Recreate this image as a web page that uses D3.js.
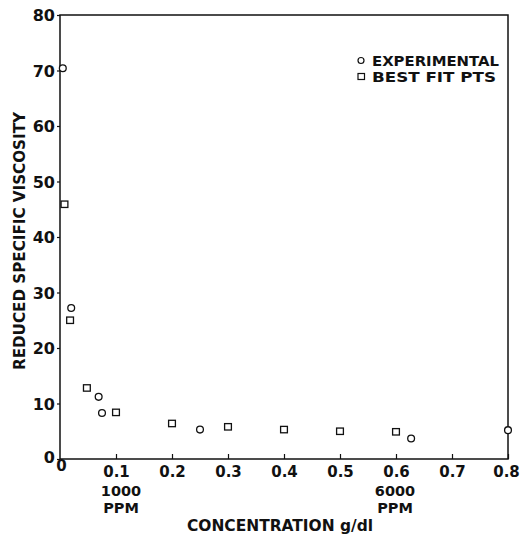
<!DOCTYPE html>
<html><head><meta charset="utf-8">
<script src="https://cdn.jsdelivr.net/npm/d3@7"></script>
<style>body{margin:0;background:#fff}svg{display:block}text{font-family:"DejaVu Sans","Liberation Sans",Arial,sans-serif;font-weight:bold;fill:#111}</style>
</head><body>
<script>
const expX = [0.005, 0.02, 0.069, 0.075, 0.25, 0.627, 0.8];
const expY = [70.4, 27.2, 11.2, 8.3, 5.3, 3.7, 5.2];
const fitX = [0.008, 0.018, 0.048, 0.1, 0.2, 0.3, 0.4, 0.5, 0.6];
const fitY = [45.9, 25.0, 12.8, 8.4, 6.4, 5.8, 5.3, 5.0, 4.9];
const xTicks = [0, 0.1, 0.2, 0.3, 0.4, 0.5, 0.6, 0.7, 0.8];
const xTickLabels = ["0", "0.1", "0.2", "0.3", "0.4", "0.5", "0.6", "0.7", "0.8"];
const yTicks = [0, 10, 20, 30, 40, 50, 60, 70, 80];
const ppmNotes = [{x: 0.1, a: "1000", b: "PPM"}, {x: 0.6, a: "6000", b: "PPM"}];
const legendItems = ["EXPERIMENTAL", "BEST FIT PTS"];

const W = 520, H = 541;
const L = 60, R = 508, T = 15, B = 459;
const svg = d3.select("body").append("svg").attr("width", W).attr("height", H);
const x = d3.scaleLinear().domain([0, 0.8]).range([L, R]);
const y = d3.scaleLinear().domain([0, 80]).range([B, T]);

// frame
svg.append("rect").attr("x", L).attr("y", T).attr("width", R - L).attr("height", B - T)
  .attr("fill", "none").attr("stroke", "#111").attr("stroke-width", 1.5);

// y axis
const ya = svg.append("g").attr("transform", `translate(${L},0)`)
  .call(d3.axisLeft(y).tickValues(yTicks).tickSize(3).tickPadding(2).tickFormat(d3.format("d")));
ya.select(".domain").remove();
ya.selectAll("line").attr("stroke", "#111").attr("stroke-width", 1.2);
ya.selectAll("text").style("font-size", "16px").attr("dy", "0.36em");
ya.selectAll(".tick").filter(d => d === 0).select("text").attr("x", -5).attr("dy", "0.2em");

// x axis
const xa = svg.append("g").attr("transform", `translate(0,${B})`)
  .call(d3.axisBottom(x).tickValues(xTicks).tickSizeInner(-5).tickSizeOuter(0).tickPadding(7)
    .tickFormat((d, i) => xTickLabels[i]));
xa.select(".domain").remove();
xa.selectAll("line").attr("stroke", "#111").attr("stroke-width", 1.2);
xa.selectAll("text").style("font-size", "15px");
xa.selectAll(".tick").filter(d => d === 0).select("line").remove();
xa.selectAll(".tick").filter(d => d === 0).select("text").attr("dx", 1).attr("y", 0).attr("dy", "0.78em");
xa.selectAll(".tick").filter(d => d === 0.8).select("text").attr("dx", -2);

// ppm notes
const ppmDx = [5, -1];
ppmNotes.forEach((n, i) => {
  svg.append("text").attr("x", x(n.x) + ppmDx[i]).attr("y", 496).attr("text-anchor", "middle").style("font-size", "14.5px").text(n.a);
  svg.append("text").attr("x", x(n.x) + ppmDx[i]).attr("y", 513).attr("text-anchor", "middle").style("font-size", "14.5px").text(n.b);
});

// titles
svg.append("text").attr("x", 280).attr("y", 531).attr("text-anchor", "middle")
  .style("font-size", "15.5px").attr("textLength", 186).attr("lengthAdjust", "spacingAndGlyphs").text("CONCENTRATION g/dl");
svg.append("text").attr("transform", "translate(25,241) rotate(-90)").attr("text-anchor", "middle")
  .style("font-size", "16px").attr("textLength", 258).attr("lengthAdjust", "spacingAndGlyphs").text("REDUCED SPECIFIC VISCOSITY");

// points
svg.append("g").selectAll("circle").data(expX).join("circle")
  .attr("cx", d => x(d)).attr("cy", (d, i) => y(expY[i])).attr("r", 3.4)
  .attr("fill", "#fff").attr("stroke", "#111").attr("stroke-width", 1.3);
svg.append("g").selectAll("rect").data(fitX).join("rect")
  .attr("x", d => x(d) - 3.4).attr("y", (d, i) => y(fitY[i]) - 3.2).attr("width", 6.8).attr("height", 6.4)
  .attr("fill", "#fff").attr("stroke", "#111").attr("stroke-width", 1.3);

// legend
const lg = svg.append("g");
lg.append("circle").attr("cx", 361).attr("cy", 60.5).attr("r", 3).attr("fill", "#fff").attr("stroke", "#111").attr("stroke-width", 1.2);
lg.append("rect").attr("x", 358).attr("y", 73.5).attr("width", 6.5).attr("height", 6).attr("fill", "#fff").attr("stroke", "#111").attr("stroke-width", 1.2);
const legendW = [127, 124];
legendItems.forEach((t, i) => {
  lg.append("text").attr("x", 372).attr("y", 65.5 + i * 16).style("font-size", "14px")
    .attr("textLength", legendW[i]).attr("lengthAdjust", "spacingAndGlyphs").text(t);
});
</script>
</body></html>
